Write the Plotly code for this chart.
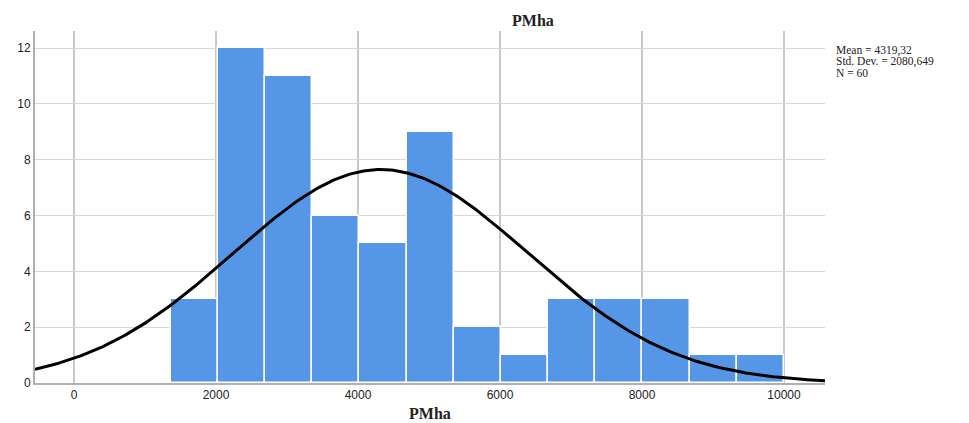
import numpy as np
import plotly.graph_objects as go

# Histogram data
bin_start = 1360.0
bin_width = 664.6
counts = [3, 12, 11, 6, 5, 9, 2, 1, 3, 3, 3, 1, 1]
mean_val = 4319.32
sd_val = 2080.649
n_val = 60
x_ticks = [0, 2000, 4000, 6000, 8000, 10000]
y_ticks = [0, 2, 4, 6, 8, 10, 12]

centers = [bin_start + bin_width * (i + 0.5) for i in range(len(counts))]

x_min, x_max = -549, 10577
xs = np.linspace(x_min, x_max, 400)
ys = n_val * bin_width / (sd_val * np.sqrt(2 * np.pi)) * np.exp(-0.5 * ((xs - mean_val) / sd_val) ** 2)

fig = go.Figure()
fig.add_trace(go.Bar(
    x=centers, y=counts, width=bin_width,
    marker=dict(color="#5596E6", line=dict(color="white", width=1.5)),
    showlegend=False, hoverinfo="x+y",
))
fig.add_trace(go.Scatter(
    x=xs, y=ys, mode="lines", line=dict(color="black", width=3),
    showlegend=False, hoverinfo="skip",
))

OFF = 8  # page body margin
W, H = 969 - OFF, 423 - OFF
L, R, T, B = 35 - OFF, 825 - OFF, 31 - OFF, 383 - OFF
PW, PH = 825 - 35, 383 - 31


def px(xp):
    return (xp - 35) / PW


def py(yp):
    return (383 - yp) / PH


fig.update_layout(
    width=W, height=H,
    margin=dict(l=L, r=W - R, t=T, b=H - B),
    paper_bgcolor="white", plot_bgcolor="white",
    bargap=0,
    font=dict(family="Liberation Sans", size=12, color="#222"),
)
fig.update_xaxes(
    range=[x_min, x_max], tickvals=x_ticks, ticktext=[str(v) for v in x_ticks],
    showgrid=True, gridcolor="#c8c8c8", gridwidth=2,
    showline=True, linecolor="#b0b0b0", linewidth=2,
    ticks="", zeroline=False, automargin=False,
    tickfont=dict(family="Liberation Sans", size=12, color="#222"),
)
fig.update_yaxes(
    range=[0, PH / ((383 - 48) / 12)], tickvals=y_ticks,
    showgrid=True, gridcolor="#d9d9d9", gridwidth=1,
    showline=True, linecolor="#b0b0b0", linewidth=2,
    ticks="", zeroline=False, automargin=False,
    tickfont=dict(family="Liberation Sans", size=12, color="#222"),
)
# chart title
fig.add_annotation(
    x=px(533), y=py(20), xref="paper", yref="paper",
    xanchor="center", yanchor="middle", showarrow=False, text="<b>PMha</b>",
    font=dict(family="Liberation Serif", size=16, color="#222"),
)
# x-axis title
fig.add_annotation(
    x=px(430), y=py(413), xref="paper", yref="paper",
    xanchor="center", yanchor="middle", showarrow=False, text="<b>PMha</b>",
    font=dict(family="Liberation Serif", size=16, color="#222"),
)
stats_lines = [
    f"Mean = {mean_val:.2f}".replace(".", ","),
    "Std. Dev. = " + f"{sd_val:.3f}".replace(".", ","),
    f"N = {n_val}",
]
for i, line in enumerate(stats_lines):
    fig.add_annotation(
        x=px(834), y=py(51 + 11 * i), xref="paper", yref="paper",
        xanchor="left", yanchor="middle", align="left", showarrow=False,
        text=line, font=dict(family="Liberation Serif", size=11.5, color="#222"),
    )
fig.write_html("out.html")
